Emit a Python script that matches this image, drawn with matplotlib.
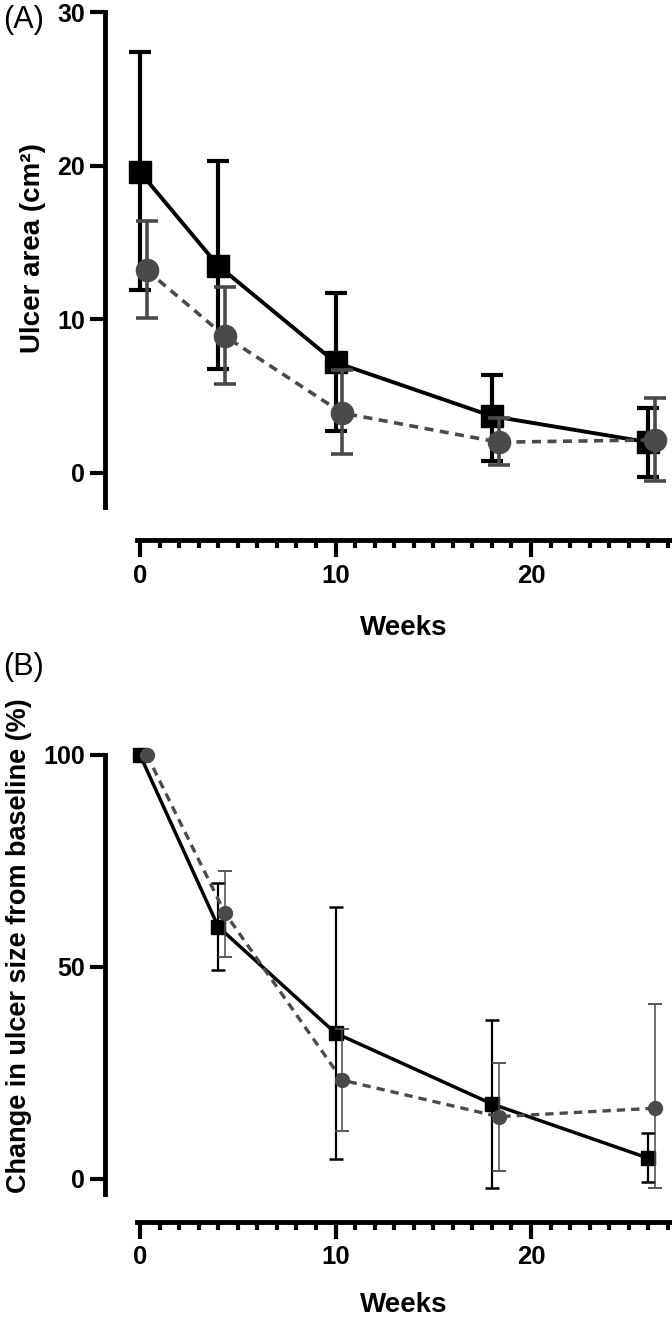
import matplotlib
matplotlib.use("Agg")
import matplotlib.pyplot as plt
from matplotlib.ticker import FixedLocator

plt.rcParams['font.family'] = ['Liberation Sans', 'DejaVu Sans']

# weeks (circles are nudged a little to the right, like in the original)
weeks_sq = [0, 4, 10, 18, 26]
weeks_ci = [0.35, 4.35, 10.35, 18.35, 26.35]

# (A) ulcer area in cm2: mean, lower end, upper end of the error bar
area_sq = [19.6, 13.5, 7.2, 3.7, 2.0]
area_sq_lo = [11.9, 6.8, 2.7, 0.8, -0.25]
area_sq_hi = [27.4, 20.3, 11.7, 6.4, 4.2]
area_ci = [13.2, 8.9, 3.9, 2.0, 2.15]
area_ci_lo = [10.1, 5.8, 1.25, 0.5, -0.5]
area_ci_hi = [16.4, 12.1, 6.7, 3.6, 4.9]

# (B) change in ulcer size from baseline, %
pct_sq = [100, 59.5, 34.4, 17.7, 4.9]
pct_sq_lo = [100, 49.3, 4.7, -2.1, -0.8]
pct_sq_hi = [100, 69.8, 64.2, 37.5, 10.8]
pct_ci = [100, 62.7, 23.3, 14.7, 16.7]
pct_ci_lo = [100, 52.4, 11.3, 1.9, -2.2]
pct_ci_hi = [100, 72.6, 35.4, 27.4, 41.3]

BLACK = '#000000'
GREY = '#4a4a4a'


def err(mean, lo, hi):
    return [[m - l for m, l in zip(mean, lo)], [h - m for m, h in zip(mean, hi)]]


def style_axes(ax, ylim, ybounds, yticks):
    ax.set_xlim(-1.79, 27.21)
    ax.set_ylim(*ylim)
    ax.spines['top'].set_visible(False)
    ax.spines['right'].set_visible(False)
    ax.spines['left'].set_linewidth(3.5)
    ax.spines['bottom'].set_linewidth(3.5)
    ax.spines['left'].set_bounds(*ybounds)
    ax.spines['bottom'].set_bounds(-0.15, 27.21)
    ax.set_yticks(yticks)
    ax.set_xticks([0, 10, 20])
    ax.xaxis.set_minor_locator(FixedLocator(list(range(0, 28))))
    ax.tick_params(axis='y', length=11, width=3, pad=3.5, labelsize=18)
    ax.tick_params(axis='x', which='major', length=12, width=3, pad=5, labelsize=18.5)
    ax.tick_params(axis='x', which='minor', length=6, width=3)
    for lab in ax.get_xticklabels() + ax.get_yticklabels():
        lab.set_fontweight('bold')


fig = plt.figure(figsize=(6.72, 13.22), dpi=100)

# ---- (A)
ax1 = fig.add_axes([0.15625, 0.5912, 0.84375, 0.4017])
ax1.errorbar(weeks_sq, area_sq, yerr=err(area_sq, area_sq_lo, area_sq_hi),
             color=BLACK, lw=2.8, marker='s', ms=15.5, elinewidth=3,
             capsize=8, capthick=3, clip_on=False, zorder=3)
ax1.errorbar(weeks_ci, area_ci, yerr=err(area_ci, area_ci_lo, area_ci_hi),
             color=GREY, lw=2.6, ls=(0, (2.5, 1.8)), marker='o', ms=16,
             elinewidth=2.6, capsize=8, capthick=2.6, clip_on=False, zorder=4)
style_axes(ax1, (-4.4, 30.2), (-2.2, 30), [0, 10, 20, 30])
ax1.set_ylabel('Ulcer area (cm²)', fontsize=20, fontweight='bold')
ax1.yaxis.set_label_coords(-0.104, 0.55)
ax1.set_xlabel('Weeks', fontsize=20, fontweight='bold')
ax1.xaxis.set_label_coords(0.526, -0.165)
ax1.xaxis.label.set_va('center')

# ---- (B)
ax2 = fig.add_axes([0.15625, 0.0758, 0.84375, 0.3547])
ax2.errorbar(weeks_sq, pct_sq, yerr=err(pct_sq, pct_sq_lo, pct_sq_hi),
             color=BLACK, lw=2.5, marker='s', ms=10, elinewidth=1.6,
             capsize=5, capthick=1.8, clip_on=False, zorder=3)
ax2.errorbar(weeks_ci, pct_ci, yerr=err(pct_ci, pct_ci_lo, pct_ci_hi),
             color=GREY, lw=2.4, ls=(0, (2.5, 1.8)), marker='o', ms=10,
             elinewidth=1.1, capsize=5, capthick=1.3, clip_on=False, zorder=4)
style_axes(ax2, (-10.1, 100.5), (-3.6, 100), [0, 50, 100])
ax2.set_ylabel('Change in ulcer size from baseline (%)', fontsize=19.5, fontweight='bold')
ax2.yaxis.set_label_coords(-0.128, 0.59)
ax2.set_xlabel('Weeks', fontsize=20, fontweight='bold')
ax2.xaxis.set_label_coords(0.526, -0.177)
ax2.xaxis.label.set_va('center')

fig.text(0.004, 1 - 5 / 1322, '(A)', fontsize=22, va='top', ha='left')
fig.text(0.004, 1 - 652 / 1322, '(B)', fontsize=22, va='top', ha='left')

fig.savefig('out.png', dpi=100)
